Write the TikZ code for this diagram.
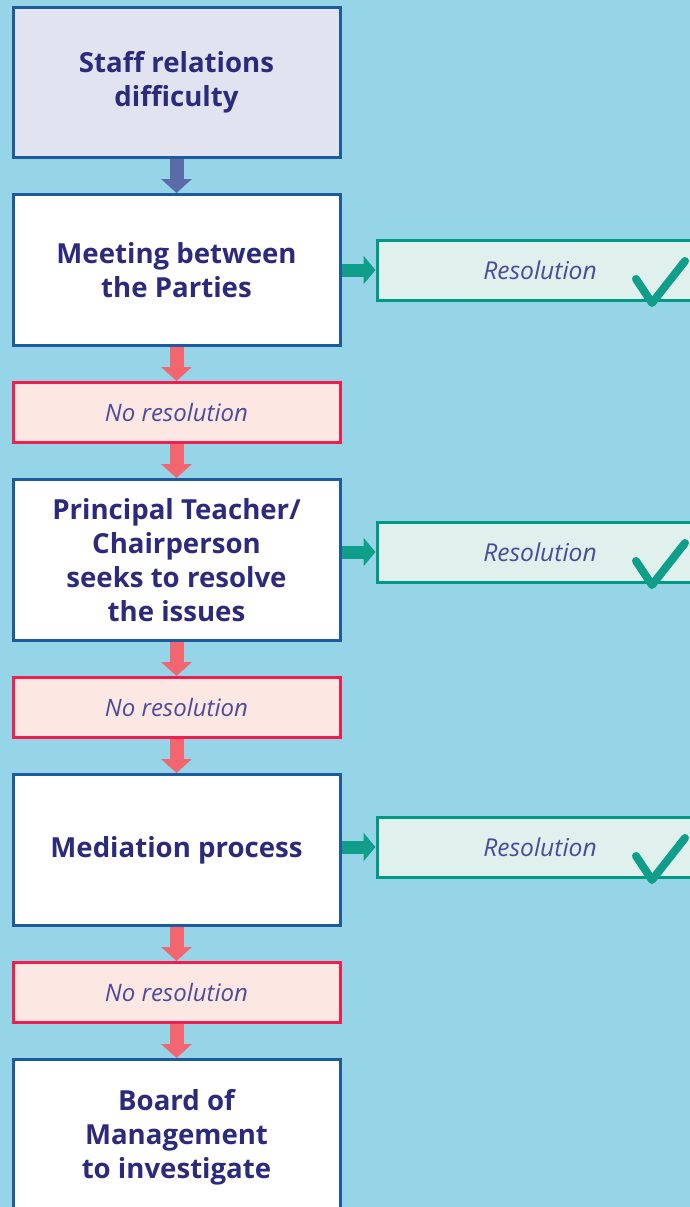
\documentclass[tikz,border=0pt]{standalone}
\usepackage{fontspec}
\setmainfont{Open Sans}
\usetikzlibrary{arrows.meta, positioning}

\definecolor{bgblue}{HTML}{96D5E8}
\definecolor{boxline}{HTML}{1E5AA0}
\definecolor{startfill}{HTML}{E1E3F0}
\definecolor{navytext}{HTML}{2B2A7C}
\definecolor{softtext}{HTML}{4B4B9B}
\definecolor{nofill}{HTML}{FDE7E3}
\definecolor{noline}{HTML}{EE1E50}
\definecolor{resfill}{HTML}{E0F0EC}
\definecolor{resline}{HTML}{009A82}
\definecolor{downblue}{HTML}{5A6CA8}
\definecolor{downred}{HTML}{F26670}
\definecolor{okgreen}{HTML}{0F9E8A}

\begin{document}
\begin{tikzpicture}[
    x=1pt, y=1pt, node distance=17pt,
    main box/.style ={rectangle, draw=boxline, line width=1.5pt, fill=white, minimum width=163.5pt, minimum height=75.5pt, align=center, text=navytext, font=\fontsize{13.8}{17}\selectfont\bfseries},
    start box/.style={main box, fill=startfill, minimum height=75pt},
    no box/.style   ={rectangle, draw=noline, line width=1.5pt, fill=nofill, minimum width=163.5pt, minimum height=30pt, text=softtext, font=\fontsize{12}{14}\selectfont\itshape},
    res box/.style  ={rectangle, draw=resline, line width=1.5pt, fill=resfill, minimum width=163pt, minimum height=30pt, text=softtext, font=\fontsize{12.3}{14}\selectfont\itshape},
    down/.style     ={line width=7pt, -{Triangle[width=15pt, length=7pt]}},
    across/.style   ={line width=6.5pt, okgreen, -{Triangle[width=14pt, length=6pt]}},
    tick/.style     ={line width=4pt, okgreen, line cap=round, line join=round},
]
\useasboundingbox (0,0) rectangle (345,-603.5);
\clip (0,0) rectangle (345,-603.5);
\fill[bgblue] (0,0) rectangle (345,-603.5);

% main column
\node[start box] (staff) at (88.25,-41.25) {Staff relations\\difficulty};
\node[main box, below=of staff]  (meet)  {Meeting between\\the Parties};
\node[no box,   below=of meet]   (no1)   {No resolution};
\node[main box, below=of no1, minimum height=80.5pt] (chair) {Principal Teacher/\\Chairperson\\seeks to resolve\\the issues};
\node[no box,   below=of chair]  (no2)   {No resolution};
\node[main box, below=of no2]    (med)   {Mediation process};
\node[no box,   below=of med]    (no3)   {No resolution};
\node[main box, below=of no3, minimum height=78pt] (board) {Board of\\Management\\to investigate};

% side boxes
\node[res box, right=17pt of meet] (res1) {Resolution};
\node[res box, right=17pt of chair, yshift=4pt] (res2) {Resolution};
\node[res box, right=17pt of med, yshift=1.5pt] (res3) {Resolution};

% arrows down the column
\draw[down, downblue] (staff) -- (meet);
\draw[down, downred] (meet) -- (no1);
\draw[down, downred] (no1) -- (chair);
\draw[down, downred] (chair) -- (no2);
\draw[down, downred] (no2) -- (med);
\draw[down, downred] (med) -- (no3);
\draw[down, downred] (no3) -- (board);

% arrows out to the resolutions
\draw[across] (meet.east |- res1.west) -- (res1.west);
\draw[across] (chair.east |- res2.west) -- (res2.west);
\draw[across] (med.east |- res3.west) -- (res3.west);

% tick marks
\foreach \r in {res1, res2, res3}
  \draw[tick] ([shift={(48,-4.5)}]\r.center) -- ([shift={(56,-16.5)}]\r.center) -- ([shift={(72.5,4.5)}]\r.center);
\end{tikzpicture}
\end{document}
